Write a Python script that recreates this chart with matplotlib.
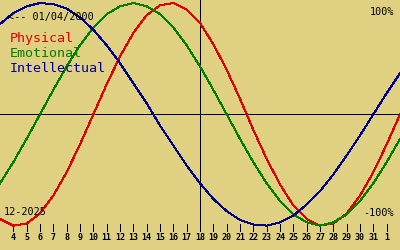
import matplotlib
matplotlib.use("Agg")
import matplotlib.pyplot as plt

# biorhythm for birth date 01/04/2000, month 12-2025; values read per day (x = day of month, 32/33 = next month)
days = list(range(3, 34))
physical = [-0.94, -1.00, -0.98, -0.89, -0.73, -0.52, -0.27, 0.00, 0.27, 0.52,
            0.73, 0.89, 0.98, 1.00, 0.94, 0.82, 0.63, 0.40, 0.14, -0.14,
            -0.40, -0.63, -0.82, -0.94, -1.00, -0.98, -0.89, -0.73, -0.52, -0.27, 0.00]
emotional = [-0.62, -0.43, -0.22, 0.00, 0.22, 0.43, 0.62, 0.78, 0.90, 0.97,
             1.00, 0.97, 0.90, 0.78, 0.62, 0.43, 0.22, 0.00, -0.22, -0.43,
             -0.62, -0.78, -0.90, -0.97, -1.00, -0.97, -0.90, -0.78, -0.62, -0.43, -0.22]
intellectual = [0.81, 0.91, 0.97, 1.00, 0.99, 0.95, 0.87, 0.76, 0.62, 0.46,
                0.28, 0.10, -0.10, -0.28, -0.46, -0.62, -0.76, -0.87, -0.95, -0.99,
                -1.00, -0.97, -0.91, -0.81, -0.69, -0.54, -0.37, -0.19, 0.00, 0.19, 0.37]
tick_days = list(range(4, 33))
tick_labels = [str(d) for d in range(4, 32)] + ["1"]
today = 18

BG = "#e0d182"
RED, GREEN, BLUE = "#e00000", "#008000", "#000090"
MONO = "DejaVu Sans Mono"
LW = 0.72  # ~1 px at 100 dpi

fig = plt.figure(figsize=(4, 2.5), dpi=100, facecolor=BG)
ax = fig.add_axes([0, 0, 1, 1])
ax.set_facecolor(BG)
ax.set_xlim(3, 33)
ax.set_ylim(-1.219, 1.027)
ax.axis("off")

ax.axhline(0, color="black", lw=LW, antialiased=False)
ax.vlines(today, -1.02, 1.1, color="black", lw=LW, antialiased=False)
ax.vlines(tick_days, -0.987, -1.045, color="black", lw=LW, antialiased=False)
for d, lab in zip(tick_days, tick_labels):
    ax.text(d, -1.111, lab, ha="center", va="center", fontsize=6,
            family=MONO, fontweight="bold")

ax.plot(days, physical, color=RED, lw=LW, antialiased=False)
ax.plot(days, emotional, color=GREEN, lw=LW, antialiased=False)
ax.plot(days, intellectual, color=BLUE, lw=LW, antialiased=False)

def px(x, y):
    return x / 400, 1 - y / 250

fig.text(*px(8, 16.5), "<-- 01/04/2000", fontsize=7.3, family=MONO, va="center")
fig.text(*px(10, 38.5), "Physical", fontsize=9.6, family=MONO, va="center", color=RED)
fig.text(*px(10, 53.5), "Emotional", fontsize=9.6, family=MONO, va="center", color=GREEN)
fig.text(*px(10, 68.5), "Intellectual", fontsize=9.6, family=MONO, va="center", color=BLUE)
fig.text(*px(394, 12), "100%", fontsize=7.3, family=MONO, va="center", ha="right")
fig.text(*px(394, 213), "-100%", fontsize=7.3, family=MONO, va="center", ha="right")
fig.text(*px(4, 212), "12-2025", fontsize=7.3, family=MONO, va="center")

fig.savefig("out.png", dpi=100, facecolor=BG)
